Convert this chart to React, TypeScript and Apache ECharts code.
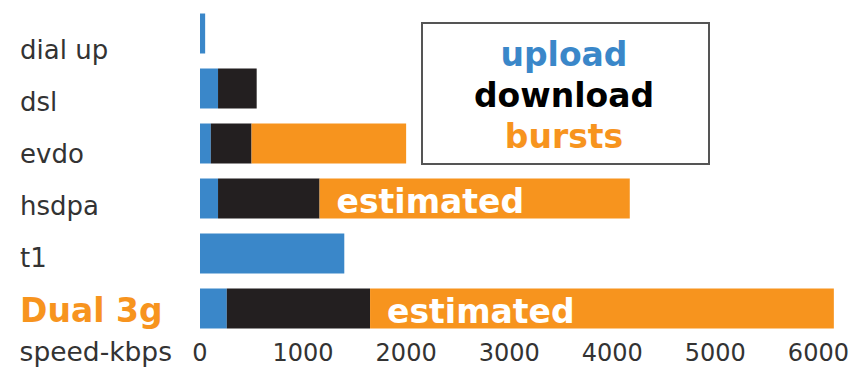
import React, { useEffect, useRef } from "react";
import * as echarts from "echarts";

const categories = ["dial up", "dsl", "evdo", "hsdpa", "t1", "Dual 3g"];
// cumulative end values (kbps)
const upload = [50, 175, 105, 175, 1400, 260];
const download: (number | null)[] = [null, 550, 500, 1160, null, 1650];
const bursts: (number | null)[] = [null, null, 2000, 4170, null, 6150];
const burstNotes = ["", "", "", "estimated", "", "estimated"];
const legendNames = ["upload", "download", "bursts"];
const axisMax = 6200;
const axisStep = 1000;

const BLUE = "#3a87c9";
const BLACK = "#231f20";
const ORANGE = "#f7941e";
const TEXT = "#333333";
const FONT = "DejaVu Sans";

export default function App() {
  const ref = useRef<HTMLDivElement>(null);
  useEffect(() => {
    if (!ref.current) return;
    const chart = echarts.init(ref.current, undefined, { renderer: "svg" });

    const downSeg = download.map((d, i) => (d == null ? "-" : d - upload[i]));
    const burstSeg = bursts.map((b, i) => {
      if (b == null) return "-";
      const prev = download[i] != null ? (download[i] as number) : upload[i];
      return {
        value: b - prev,
        label: burstNotes[i]
          ? {
              show: true,
              formatter: burstNotes[i],
              position: "insideLeft",
              distance: 17,
              offset: [0, 3],
              color: "#ffffff",
              fontSize: 33,
              fontWeight: "bold",
              fontFamily: FONT,
            }
          : { show: false },
      };
    });

    const option: any = {
      animation: false,
      backgroundColor: "#ffffff",
      textStyle: { fontFamily: FONT },
      grid: [
        { left: 200, right: 28, top: 6, height: 330 },
        { left: 200, right: 28, top: 24, height: 312 },
      ],
      xAxis: [
        {
          type: "value",
          gridIndex: 0,
          min: 0,
          max: axisMax,
          interval: axisStep,
          axisLine: { show: false },
          axisTick: { show: false },
          splitLine: { show: false },
          axisLabel: {
            fontSize: 24,
            color: TEXT,
            margin: 5,
            showMaxLabel: false,
            fontFamily: FONT,
            formatter: (v: number) => String(v),
          },
          name: "speed-kbps",
          nameLocation: "start",
          nameGap: 28,
          nameTextStyle: {
            fontSize: 26.5,
            color: TEXT,
            verticalAlign: "top",
            padding: [2, 0, 0, 0],
            fontFamily: FONT,
          },
        },
        { type: "value", gridIndex: 1, show: false, min: 0, max: axisMax },
      ],
      yAxis: [
        {
          type: "category",
          gridIndex: 0,
          data: categories,
          inverse: true,
          show: false,
        },
        {
          type: "category",
          gridIndex: 1,
          data: categories,
          inverse: true,
          axisLine: { show: false },
          axisTick: { show: false },
          splitLine: { show: false },
          axisLabel: {
            align: "left",
            margin: 180,
            fontSize: 26,
            color: TEXT,
            fontFamily: FONT,
            formatter: (v: string) =>
              v === "Dual 3g" ? "{hl|" + v + "}" : v,
            rich: {
              hl: {
                fontSize: 33,
                fontWeight: "bold",
                color: ORANGE,
                fontFamily: FONT,
              },
            },
          },
        },
      ],
      series: [
        {
          name: legendNames[0],
          type: "bar",
          stack: "speed",
          barWidth: 40,
          xAxisIndex: 0,
          yAxisIndex: 0,
          itemStyle: { color: BLUE },
          data: upload,
        },
        {
          name: legendNames[1],
          type: "bar",
          stack: "speed",
          barWidth: 40,
          xAxisIndex: 0,
          yAxisIndex: 0,
          itemStyle: { color: BLACK },
          data: downSeg,
        },
        {
          name: legendNames[2],
          type: "bar",
          stack: "speed",
          barWidth: 40,
          xAxisIndex: 0,
          yAxisIndex: 0,
          itemStyle: { color: ORANGE },
          data: burstSeg,
        },
      ],
      graphic: [
        {
          type: "rect",
          left: 421,
          top: 22,
          shape: { width: 287, height: 141 },
          style: { fill: "#ffffff", stroke: "#555555", lineWidth: 2 },
          z: 10,
        },
        ...legendNames.map((n, i) => ({
          type: "text",
          x: 564,
          y: 54 + i * 41,
          z: 11,
          style: {
            text: n,
            fill: [BLUE, "#000000", ORANGE][i],
            fontSize: 33,
            fontWeight: "bold",
            fontFamily: FONT,
            textAlign: "center",
            textVerticalAlign: "middle",
          },
        })),
      ],
    };
    chart.setOption(option);
    return () => chart.dispose();
  }, []);
  return (
    <div
      ref={ref}
      style={{ position: "fixed", left: 0, top: 0, width: 867, height: 370 }}
    />
  );
}
